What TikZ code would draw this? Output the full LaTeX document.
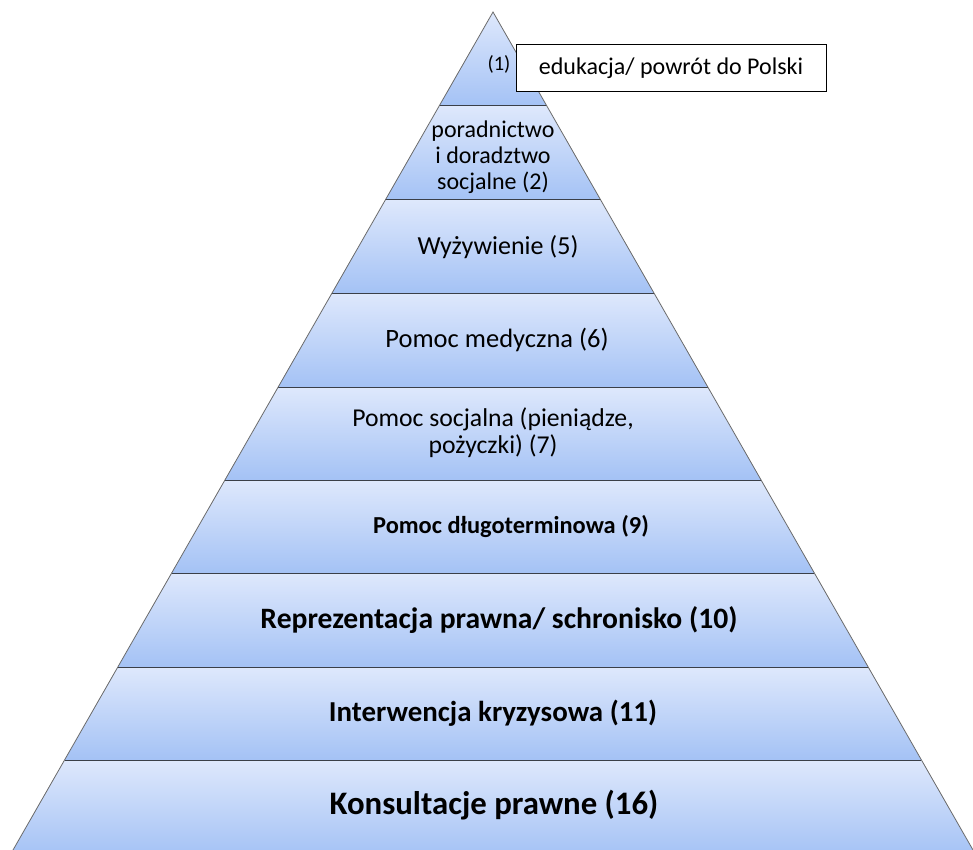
\documentclass[tikz,border=0pt]{standalone}
\usepackage{fontspec}
\setmainfont{Carlito}
\definecolor{bandtop}{HTML}{DEE8FC}
\definecolor{bandbot}{HTML}{A4C2F5}
\definecolor{sepline}{HTML}{3A3F48}
\definecolor{edgeline}{HTML}{6A6A6A}
\begin{document}
\begin{tikzpicture}[x=1pt,y=-1pt,
  lbl/.style={align=center,inner sep=0pt,text=black},
  reg/.style={lbl,font=\fontsize{#1}{27}\selectfont},
  bld/.style={lbl,font=\fontsize{#1}{#1}\selectfont\bfseries},
  tag/.style={draw=black,line width=1pt,fill=white,minimum width=310pt,minimum height=47pt,inner sep=0pt,font=\fontsize{24}{28}\selectfont}]
\useasboundingbox (0,0) rectangle (973,850);
\foreach \t/\b in {12/106,106/200,200/293,293/387,387/480,480/573,573/667,667/760,760/856}{
  \pgfmathsetmacro\tl{493-(\t-12)*0.5728}
  \pgfmathsetmacro\tr{493+(\t-12)*0.5728}
  \pgfmathsetmacro\bl{493-(\b-12)*0.5728}
  \pgfmathsetmacro\br{493+(\b-12)*0.5728}
  \shade[top color=bandtop,bottom color=bandbot] (\tl,\t) -- (\tr,\t) -- (\br,\b) -- (\bl,\b) -- cycle;
}
\foreach \y in {106,200,293,387,480,573,667,760}{
  \pgfmathsetmacro\l{493-(\y-12)*0.5728}
  \pgfmathsetmacro\r{493+(\y-12)*0.5728}
  \draw[sepline,line width=1pt] (\l,\y) -- (\r,\y);
}
\coordinate (apex) at (493,12);
\coordinate (bl) at ({493-(856-12)*0.5728},856);
\coordinate (br) at ({493+(856-12)*0.5728},856);
\draw[edgeline,line width=0.8pt] (bl) -- (apex) -- (br);
\node[lbl,font=\fontsize{20.5}{22}\selectfont] (n1) at (499,64) {(1)};
\node[tag] (box) at (671,68.5) {edukacja/ powrót do Polski};
\node[lbl,font=\fontsize{24}{26}\selectfont] (n2) at (493,157) {poradnictwo\\i doradztwo\\socjalne (2)};
\node[reg=26] (n5) at (498,247) {Wyżywienie (5)};
\node[reg=26.5] (n6) at (497,340) {Pomoc medyczna (6)};
\node[reg=25.7] (n7) at (493,433) {Pomoc socjalna (pieniądze,\\pożyczki) (7)};
\node[bld=24.4] (n9) at (511,527) {Pomoc długoterminowa (9)};
\node[bld=29.6] (n10) at (499,620) {Reprezentacja prawna/ schronisko (10)};
\node[bld=28.9] (n11) at (493,713) {Interwencja kryzysowa (11)};
\node[bld=32.8] (n16) at (494,805) {Konsultacje prawne (16)};
\end{tikzpicture}
\end{document}
